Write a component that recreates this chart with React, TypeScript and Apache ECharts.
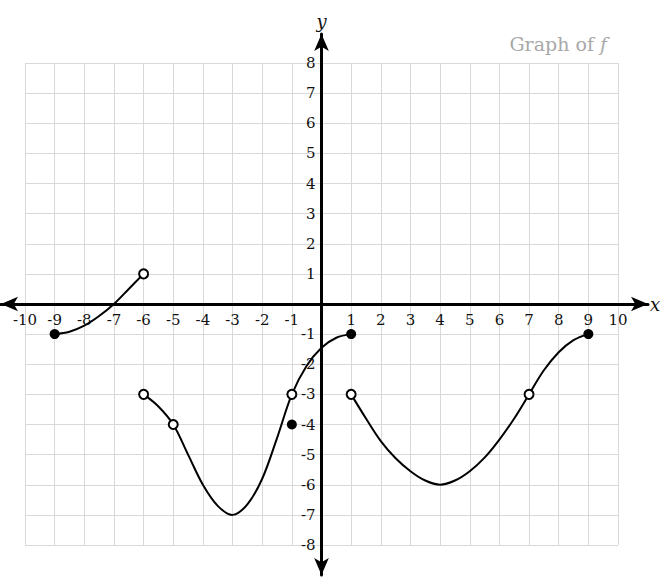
import React, { useEffect, useRef } from "react";
import * as echarts from "echarts";

// ---- data ----
const X_RANGE = [-10, 10];
const Y_RANGE = [-8, 8];

const piece1: number[][] = [
  [-9, -1], [-8.5, -0.92], [-8, -0.72], [-7.5, -0.4], [-7, 0], [-6.5, 0.5], [-6, 1],
];
const piece2: number[][] = [
  [-6, -3], [-5.5, -3.4], [-5, -4], [-4.5, -5.0], [-4, -6], [-3.5, -6.7], [-3, -7],
  [-2.5, -6.65], [-2, -5.8], [-1.5, -4.45], [-1, -3], [-0.5, -2.05], [0, -1.45], [0.5, -1.12], [1, -1],
];
const piece3: number[][] = [
  [1, -3], [1.5, -3.8], [2, -4.55], [2.5, -5.12], [3, -5.55], [3.5, -5.86], [4, -6],
  [4.5, -5.86], [5, -5.55], [5.5, -5.1], [6, -4.5], [6.5, -3.8], [7, -3], [7.5, -2.2],
  [8, -1.6], [8.5, -1.2], [9, -1],
];
const pieces = [piece1, piece2, piece3];
const closedDots: number[][] = [[-9, -1], [-1, -4], [1, -1], [9, -1]];
const openDots: number[][] = [[-6, 1], [-6, -3], [-5, -4], [-1, -3], [1, -3], [7, -3]];

const TITLE = "Graph of {f|f}";

// ---- layout ----
const W = 672;
const H = 585;
const G0 = { left: 25, right: 54, top: 63, bottom: 40 };
const G1 = { left: 1, right: 24, top: 34, bottom: 10 };
const FONT = "'DejaVu Serif', 'Liberation Serif', serif";

export default function App() {
  const ref = useRef<HTMLDivElement>(null);
  useEffect(() => {
    if (!ref.current) return;
    const chart = echarts.init(ref.current, undefined, { renderer: "svg" });

    const gw = W - G0.left - G0.right;
    const gh = H - G0.top - G0.bottom;
    const ux = gw / (X_RANGE[1] - X_RANGE[0]);
    const uy = gh / (Y_RANGE[1] - Y_RANGE[0]);
    const x0px = G0.left - X_RANGE[0] * ux;
    const y0px = G0.top + Y_RANGE[1] * uy;
    const x1min = (G1.left - x0px) / ux;
    const x1max = (W - G1.right - x0px) / ux;
    const y1max = (y0px - G1.top) / uy;
    const y1min = -((H - G1.bottom) - y0px) / uy;
    // offsets that move the label axes of grid 0 onto the zero lines
    const xLabelOffset = -((H - G0.bottom) - y0px);
    const yLabelOffset = -(x0px - G0.left);

    const label = {
      fontFamily: FONT,
      fontSize: 15,
      color: "#111",
    };

    chart.setOption({
      animation: false,
      title: {
        text: TITLE,
        right: W - 612,
        top: 29,
        textStyle: {
          fontFamily: FONT,
          fontSize: 19,
          fontWeight: "normal",
          color: "#a8a8a8",
          rich: {
            f: { fontFamily: FONT, fontStyle: "italic", fontSize: 19, color: "#a8a8a8" },
          },
        },
      },
      grid: [
        { ...G0, containLabel: false },
        { ...G1, containLabel: false },
      ],
      xAxis: [
        {
          gridIndex: 0,
          type: "value",
          position: "bottom",
          offset: xLabelOffset,
          min: X_RANGE[0],
          max: X_RANGE[1],
          interval: 1,
          axisLine: { show: false, onZero: false },
          axisTick: { show: false },
          axisLabel: {
            ...label,
            margin: 8,
            formatter: (v: number) => (v === 0 ? "" : String(v)),
          },
          splitLine: { show: true, lineStyle: { color: "#d9d9d9", width: 1 } },
        },
        {
          gridIndex: 1,
          type: "value",
          min: x1min,
          max: x1max,
          axisLine: {
            show: true,
            onZero: true,
            symbol: ["arrow", "arrow"],
            symbolSize: [11, 17],
            lineStyle: { color: "#000", width: 3 },
          },
          axisTick: { show: false },
          axisLabel: { show: false },
          splitLine: { show: false },
          name: "x",
          nameLocation: "end",
          nameGap: 2,
          nameTextStyle: { fontFamily: FONT, fontStyle: "italic", fontSize: 18, color: "#111", verticalAlign: "middle" },
        },
      ],
      yAxis: [
        {
          gridIndex: 0,
          type: "value",
          position: "left",
          offset: yLabelOffset,
          min: Y_RANGE[0],
          max: Y_RANGE[1],
          interval: 1,
          axisLine: { show: false, onZero: false },
          axisTick: { show: false },
          axisLabel: {
            ...label,
            margin: 6,
            formatter: (v: number) => (v === 0 ? "" : String(v)),
          },
          splitLine: { show: true, lineStyle: { color: "#d9d9d9", width: 1 } },
        },
        {
          gridIndex: 1,
          type: "value",
          min: y1min,
          max: y1max,
          axisLine: {
            show: true,
            onZero: true,
            symbol: ["arrow", "arrow"],
            symbolSize: [11, 17],
            lineStyle: { color: "#000", width: 3 },
          },
          axisTick: { show: false },
          axisLabel: { show: false },
          splitLine: { show: false },
          name: "y",
          nameLocation: "end",
          nameGap: 4,
          nameTextStyle: { fontFamily: FONT, fontStyle: "italic", fontSize: 18, color: "#111", align: "center" },
        },
      ],
      series: [
        {
          type: "custom",
          xAxisIndex: 0,
          yAxisIndex: 0,
          data: pieces.map((p) => p[0]),
          silent: true,
          clip: false,
          z: 3,
          renderItem: (params: any, api: any) => {
            const pts = pieces[params.dataIndex].map((p) => api.coord(p));
            return {
              type: "polyline",
              shape: { points: pts, smooth: 0.35 },
              style: { stroke: "#000", lineWidth: 2, fill: "none", lineJoin: "round", lineCap: "round" },
            };
          },
        },
        {
          type: "scatter",
          xAxisIndex: 0,
          yAxisIndex: 0,
          data: closedDots,
          symbol: "circle",
          symbolSize: 10,
          silent: true,
          itemStyle: { color: "#000", opacity: 1 },
          z: 5,
        },
        {
          type: "scatter",
          xAxisIndex: 0,
          yAxisIndex: 0,
          data: openDots,
          symbol: "circle",
          symbolSize: 9,
          silent: true,
          itemStyle: { color: "#fff", borderColor: "#000", borderWidth: 2, opacity: 1 },
          z: 5,
        },
      ],
    });
    return () => chart.dispose();
  }, []);

  return (
    <div
      ref={ref}
      style={{ position: "fixed", left: 0, top: 0, width: W, height: H, background: "#fff" }}
    />
  );
}
